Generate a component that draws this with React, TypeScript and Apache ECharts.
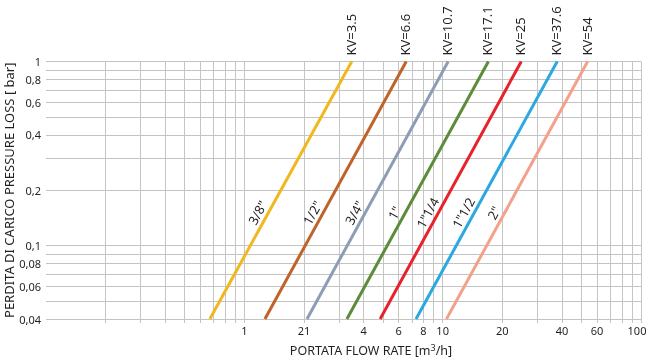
import React, { useEffect, useRef } from "react";
import * as echarts from "echarts";

// pipe sizes and their KV
const sizes = ['3/8"', '1/2"', '3/4"', '1"', '1"1/4', '1"1/2', '2"'];
const kvLabels = ["KV=3.5", "KV=6.6", "KV=10.7", "KV=17.1", "KV=25", "KV=37.6", "KV=54"];
// flow rate [m3/h] read at the bottom (0.04 bar) and top (1 bar) of each line
const flowAtMinLoss = [0.67, 1.27, 2.07, 3.29, 4.84, 7.34, 10.45];
const flowAtMaxLoss = [3.48, 6.55, 10.66, 17.0, 24.9, 37.8, 53.8];
const lossMin = 0.04;
const lossMax = 1;
const colors = ["#F0B81E", "#C0632A", "#8D9DB6", "#5B8B3B", "#E8222A", "#2AA8DF", "#F3A18A"];

// axes
const xGridValues = [0.2, 0.3, 0.4, 0.5, 0.6, 0.7, 0.8, 0.9, 1, 2, 3, 4, 5, 6, 7, 8, 9, 10, 20, 30, 40, 50, 60, 70, 80, 90, 100];
const xLabelValues = [1, 2, 4, 6, 8, 10, 20, 40, 60, 100];
const xLabelTexts = ["1", "21", "4", "6", "8", "10", "20", "40", "60", "100"];
const yGridValues = [0.04, 0.05, 0.06, 0.07, 0.08, 0.09, 0.1, 0.2, 0.3, 0.4, 0.5, 0.6, 0.7, 0.8, 0.9, 1];
const yLabelValues = [0.04, 0.06, 0.08, 0.1, 0.2, 0.4, 0.6, 0.8, 1];
const yLabelTexts = ["0,04", "0,06", "0,08", "0,1", "0,2", "0,4", "0,6", "0,8", "1"];

const FONT = "'Noto Sans', sans-serif";
const GRID = "#c4c4c4";
const TEXT = "#231f20";

function lookup(vals: number[], texts: string[], v: number): string {
  for (let i = 0; i < vals.length; i++) {
    if (Math.abs(vals[i] - v) / vals[i] < 1e-6) return texts[i];
  }
  return "";
}

export default function App() {
  const ref = useRef<HTMLDivElement>(null);
  useEffect(() => {
    if (!ref.current) return;
    const chart = echarts.init(ref.current, undefined, { renderer: "svg" });
    const option: any = {
      animation: false,
      grid: { left: 46, right: 6, top: 61.5, bottom: 42, containLabel: false, outerBoundsMode: "none" },
      xAxis: {
        type: "log",
        logBase: 10,
        min: 0.1,
        max: 100,
        name: "PORTATA FLOW RATE [m{sup|3}/h]",
        nameLocation: "middle",
        nameGap: 24,
        nameMoveOverlap: false,
        nameTextStyle: {
          fontFamily: FONT,
          fontSize: 12.5,
          color: TEXT,
          padding: [0, 0, 0, 55],
          rich: { sup: { fontFamily: FONT, fontSize: 9, color: TEXT, verticalAlign: "bottom", padding: [0, 0, 6, 0] } },
        },
        axisLine: { show: false },
        axisTick: { show: true, customValues: xGridValues, length: 4, lineStyle: { color: GRID } },
        splitLine: { show: true, lineStyle: { color: GRID, width: 1 } },
        minorTick: { show: false },
        axisLabel: {
          customValues: xLabelValues,
          margin: 6,
          fontFamily: FONT,
          fontSize: 11,
          color: TEXT,
          formatter: (v: number) => {
            const t = lookup(xLabelValues, xLabelTexts, v);
            return t === "100" ? "{r|100}" : t;
          },
          rich: { r: { fontFamily: FONT, fontSize: 11, color: TEXT, padding: [0, 8, 0, 0] } },
        },
      },
      yAxis: {
        type: "log",
        logBase: 10,
        min: lossMin,
        max: lossMax,
        name: "PERDITA DI CARICO PRESSURE LOSS [ bar]",
        nameLocation: "middle",
        nameGap: 31,
        nameMoveOverlap: false,
        nameTextStyle: { fontFamily: FONT, fontSize: 13, color: TEXT },
        axisLine: { show: false },
        axisTick: { show: false, customValues: yGridValues },
        splitLine: { show: true, lineStyle: { color: GRID, width: 1 } },
        axisLabel: {
          customValues: yLabelValues,
          margin: 5,
          fontFamily: FONT,
          fontSize: 11,
          color: TEXT,
          formatter: (v: number) => lookup(yLabelValues, yLabelTexts, v),
        },
      },
      series: sizes.map((s, i) => ({
        type: "line",
        name: s,
        data: [
          [flowAtMinLoss[i], lossMin],
          [flowAtMaxLoss[i], lossMax],
        ],
        showSymbol: false,
        symbol: "none",
        silent: true,
        z: 5,
        lineStyle: { color: colors[i], width: 3 },
      })),
    };
    chart.setOption(option);

    const graphics: any[] = [];
    const t = 0.395; // label position along each line, from the bottom
    sizes.forEach((s, i) => {
      const p0 = chart.convertToPixel({ gridIndex: 0 }, [flowAtMinLoss[i], lossMin]) as number[];
      const p1 = chart.convertToPixel({ gridIndex: 0 }, [flowAtMaxLoss[i], lossMax]) as number[];
      const dx = p1[0] - p0[0];
      const dy = p1[1] - p0[1];
      const len = Math.sqrt(dx * dx + dy * dy);
      const ux = dx / len;
      const uy = dy / len;
      // normal pointing up-left
      const nx = uy;
      const ny = -ux;
      const angle = Math.atan2(-dy, dx);
      const off = 9.5;
      const cx = p0[0] + dx * t + nx * off;
      const cy = p0[1] + dy * t + ny * off;
      graphics.push({
        type: "text",
        x: cx,
        y: cy,
        rotation: angle,
        silent: true,
        style: { text: s, fontFamily: FONT, fontSize: 13, fill: TEXT, align: "center", verticalAlign: "middle" },
      });
      graphics.push({
        type: "text",
        x: p1[0] - 1,
        y: p1[1] - 6,
        rotation: Math.PI / 2,
        silent: true,
        style: { text: kvLabels[i], fontFamily: FONT, fontSize: 13, fill: TEXT, align: "left", verticalAlign: "middle" },
      });
    });
    chart.setOption({ graphic: graphics });

    return () => chart.dispose();
  }, []);
  return <div ref={ref} style={{ position: "fixed", left: 0, top: 0, width: 647, height: 361 }} />;
}
